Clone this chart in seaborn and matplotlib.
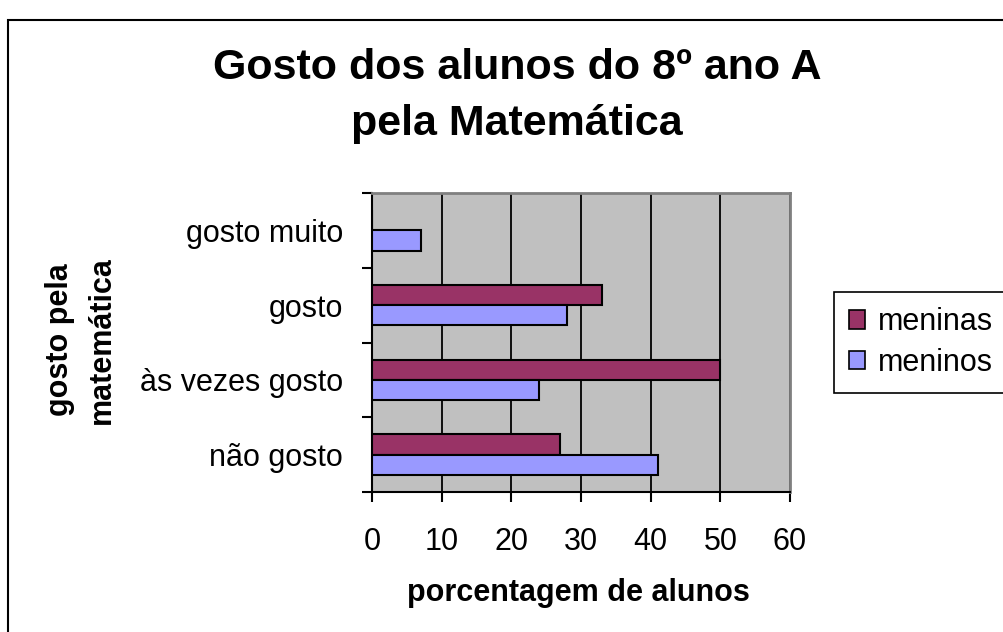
import numpy as np
import pandas as pd
import seaborn as sns
from matplotlib import pyplot as plt
from matplotlib.patches import Rectangle

categorias = ["gosto muito", "gosto", "às vezes gosto", "não gosto"]
meninas = [0, 33, 50, 27]
meninos = [7, 28, 24, 41]
grupos = ["meninas", "meninos"]
cores = ["#993366", "#9999FF"]
xticks = [0, 10, 20, 30, 40, 50, 60]

df = pd.DataFrame({
    "categoria": categorias * 2,
    "valor": meninas + meninos,
    "grupo": [grupos[0]] * len(categorias) + [grupos[1]] * len(categorias),
})

sns.set_style("white")
plt.rcParams["font.family"] = ["Liberation Sans", "DejaVu Sans"]
plt.rcParams["text.color"] = "black"
plt.rcParams["axes.labelcolor"] = "black"
plt.rcParams["xtick.color"] = "black"
plt.rcParams["ytick.color"] = "black"

fig = plt.figure(figsize=(10.04, 6.32), dpi=100)
ax = fig.add_axes([372 / 1004, 1 - 492 / 632, 418 / 1004, 299 / 632])
ax.set_facecolor("#C0C0C0")

sns.barplot(data=df, x="valor", y="categoria", hue="grupo", order=categorias,
            hue_order=grupos, palette=cores, orient="h", width=0.54, gap=0,
            edgecolor="black", linewidth=1.5, saturation=1, ax=ax, zorder=3)

ax.set_xlim(0, 60)
ax.set_xticks(xticks)
ax.set_ylim(3.5, -0.5)
ax.xaxis.grid(True, color="black", linewidth=1.3, zorder=1)
ax.set_axisbelow(True)

# ticks nas fronteiras das categorias, como no Excel
ax.set_yticks(np.arange(-0.5, len(categorias), 1), minor=True)
ax.tick_params(axis="y", which="major", length=0, pad=21, labelsize=22, labelcolor="black")
ax.tick_params(axis="y", which="minor", left=True, length=7, width=1.5, color="black")
ax.tick_params(axis="x", bottom=True, length=7, width=1.5, color="black", pad=18,
               labelsize=22, labelcolor="black")

for s in ["left", "bottom"]:
    ax.spines[s].set_color("black")
    ax.spines[s].set_linewidth(1.5)
for s in ["top", "right"]:
    ax.spines[s].set_color("#808080")
    ax.spines[s].set_linewidth(2)

ax.set_xlabel("porcentagem de alunos", fontsize=22, fontweight="bold", va="center", color="black")
ax.xaxis.set_label_coords(0.493, -0.338)
ax.set_ylabel("gosto pela\nmatemática", fontsize=22, fontweight="bold", va="center",
              linespacing=1.5, color="black")
ax.yaxis.set_label_coords(-0.696, 0.508)

fig.suptitle("Gosto dos alunos do 8º ano A\npela Matemática", x=517 / 1004,
             y=1 - 48 / 632, va="top", fontsize=31, fontweight="bold", linespacing=1.5,
             color="black")

handles, labels = ax.get_legend_handles_labels()
for h in handles:
    h.set_edgecolor("black")
    h.set_linewidth(1.2)
leg = ax.legend(handles, labels, loc="upper left", bbox_to_anchor=(834 / 1004, 1 - 292 / 632),
                bbox_transform=fig.transFigure, fontsize=22, frameon=True, fancybox=False,
                edgecolor="black", framealpha=1, handlelength=0.5, handleheight=0.55,
                handletextpad=0.45, borderpad=0.5, labelspacing=0.35, borderaxespad=0)
leg.get_frame().set_linewidth(1.2)
for t in leg.get_texts():
    t.set_color("black")

# moldura da área do gráfico
fig.patches.append(Rectangle((8 / 1004, -0.1), 1.2, 1.1 - 20 / 632, transform=fig.transFigure,
                             fill=False, edgecolor="black", linewidth=1.5))

plt.savefig("out.png", dpi=100)
